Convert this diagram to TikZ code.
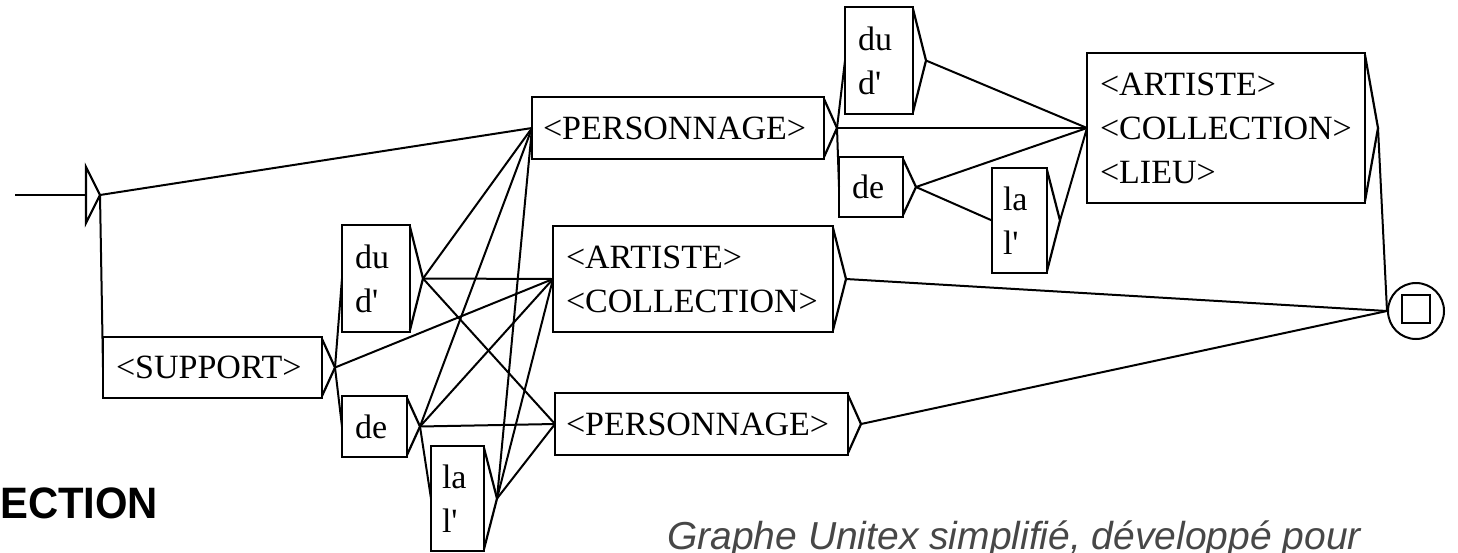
\documentclass[tikz,border=0pt]{standalone}
\usepackage{fontspec}
\newfontfamily\ufont{Liberation Serif}
\newfontfamily\lsans{Liberation Sans}
\usetikzlibrary{calc}
\newcommand\outtri[1]{%
  \coordinate (#1-o) at ($(#1.east)+(13,0)$);
  \draw[tri] ($(#1.north east)+(0,2)$) -- (#1-o) -- ($(#1.south east)+(0,-2)$);}
\begin{document}
\begin{tikzpicture}[x=1pt,y=-1pt,
  ubox/.style={draw, line width=2.4pt, outer sep=0pt, inner xsep=13pt, inner ysep=0pt,
    align=left, anchor=north west, font=\ufont\fontsize{34}{44}\selectfont},
  conn/.style={line width=2pt},
  tri/.style={line width=2.2pt, line join=miter}]
\useasboundingbox (0,0) rectangle (1458,552);
\clip (0,0) rectangle (1458,552);

% initial state
\coordinate (start) at (15,195);
\coordinate (initin) at (86,195);
\coordinate (init) at (100,195);
\draw[conn] (start) -- (initin);
\draw[tri] (86,167) -- (86,223) -- (init) -- cycle;

% boxes
\node[ubox, text width=193pt, minimum height=61pt] (sup) at (103,337) {<SUPPORT>};
\node[ubox, text width=42pt, minimum height=107pt] (du1) at (342,225) {du\\d'};
\node[ubox, text width=39pt, minimum height=61pt] (de1) at (342,396) {de};
\node[ubox, inner xsep=11pt, text width=31pt, minimum height=105pt] (la1) at (431,446) {la\\l'};
\node[ubox, inner xsep=11pt, text width=270pt, minimum height=62pt] (pers1) at (532,97) {<PERSONNAGE>};
\node[ubox, text width=254pt, minimum height=106pt] (artcol) at (553,226) {<ARTISTE>\\<COLLECTION>};
\node[ubox, inner xsep=11pt, text width=271pt, minimum height=62pt] (pers2) at (555,393) {<PERSONNAGE>};
\node[ubox, text width=42pt, minimum height=107pt] (du2) at (845,7) {du\\d'};
\node[ubox, text width=38pt, minimum height=60pt] (de2) at (839,157) {de};
\node[ubox, inner xsep=11pt, text width=33pt, minimum height=105pt] (la2) at (992,168) {la\\l'};
\node[ubox, text width=252pt, minimum height=150pt] (acl) at (1087,53) {<ARTISTE>\\<COLLECTION>\\<LIEU>};

\foreach \b in {sup,du1,de1,la1,pers1,artcol,pers2,du2,de2,la2,acl}{\outtri{\b}}

% final state
\node[circle, draw, line width=2pt, minimum size=56pt, inner sep=0pt] (fin) at (1416,311) {};
\node[draw, line width=2.4pt, minimum size=28pt, inner sep=0pt] (finsq) at (1416,309) {};

% transitions
\draw[conn] (init) -- (pers1.west);
\draw[conn] (init) -- (sup.west);
\draw[conn] (sup-o) -- (du1.west);
\draw[conn] (sup-o) -- (de1.west);
\draw[conn] (sup-o) -- (artcol.west);
\foreach \a in {du1,de1,la1}{
  \draw[conn] (\a-o) -- (pers1.west);
  \draw[conn] (\a-o) -- (artcol.west);
  \draw[conn] (\a-o) -- (pers2.west);}
\draw[conn] (de1-o) -- (la1.west);
\draw[conn] (pers1-o) -- (du2.west);
\draw[conn] (pers1-o) -- (de2.west);
\draw[conn] (pers1-o) -- (acl.west);
\draw[conn] (du2-o) -- (acl.west);
\draw[conn] (de2-o) -- (acl.west);
\draw[conn] (de2-o) -- (la2.west);
\draw[conn] (la2-o) -- (acl.west);
\draw[conn] (acl-o) -- (fin.west);
\draw[conn] (artcol-o) -- (fin.west);
\draw[conn] (pers2-o) -- (fin.west);

% texts around
\node[font=\lsans\bfseries\fontsize{44}{50}\selectfont, anchor=base west, xscale=0.95, inner sep=0pt] (ttl) at (0,518) {ECTION};
\node[font=\lsans\itshape\fontsize{39}{46}\selectfont, text=black!72, anchor=base west, inner sep=0pt] (cap) at (667,549) {Graphe Unitex simplifié, développé pour};
\end{tikzpicture}
\end{document}
